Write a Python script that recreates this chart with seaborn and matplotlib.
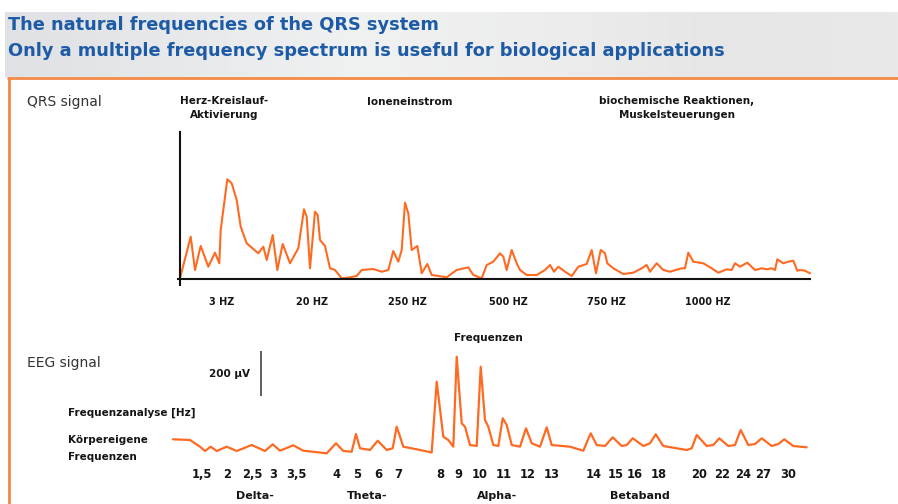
import numpy as np
import pandas as pd
import matplotlib
matplotlib.use("Agg")
import matplotlib.pyplot as plt
from matplotlib.lines import Line2D
from matplotlib.colors import LinearSegmentedColormap
import seaborn as sns

# ---------------- data ----------------
qrs_pos = [0, 10.7, 15, 20.7, 28.3, 35, 39.3, 40.7, 47.3, 51.7, 56.7, 60.7, 66.7, 78.3, 83.3, 86.7,
           92.7, 97.3, 102.7, 110, 118.3, 124, 126.7, 130, 135, 137.7, 140, 145, 150, 155, 161.7,
           170, 176.7, 181.7, 193.3, 201.7, 208.3, 213.3, 218.3, 221.7, 225, 228.3, 231.7, 237.3,
           241.7, 247.3, 251.7, 266.7, 276.7, 288.3, 293.3, 301.7, 306.7, 313.3, 320, 323.3, 326.7,
           331.7, 336.7, 340, 346.7, 356.7, 365, 370, 374, 378.3, 385, 391.7, 398.3, 406.7, 411.7,
           416, 420.7, 425, 427.3, 433.3, 443.3, 453.3, 461.7, 466.7, 470, 476.7, 483.3, 490, 493.3,
           501.7, 505, 508.3, 513.3, 523.3, 531.7, 538.3, 546.7, 551.7, 555, 560, 567.3, 575, 581.7,
           586.7, 591.7, 595, 597.3, 603.3, 608.3, 613.3, 617.3, 620, 625, 630]
qrs_amp = [0.7, 42.3, 9, 33, 12.3, 26.3, 15.7, 49, 99.7, 95.7, 79, 52.3, 35.7, 25.7, 32.3, 19,
           44, 9, 35, 15.7, 30.7, 69.7, 62.3, 10.7, 67.3, 64, 39, 33, 10.7, 9, 0.7,
           1.7, 3, 9, 10, 7.3, 9, 28, 17.3, 29, 76.3, 65.7, 29, 33,
           5.7, 15, 4, 1.7, 9, 11.7, 4, 0.7, 14, 17.3, 25.7, 22.3, 9,
           29, 15.7, 9, 4, 4, 9, 14, 7.3, 12.3, 7.3, 3, 12.3, 15, 29,
           5.7, 29, 25.7, 15.7, 10.7, 5, 6.3, 10.7, 14, 7.3, 15.7, 9, 7.3, 8.3,
           10.7, 10.7, 26.3, 17.3, 15.7, 10.7, 6.3, 9.7, 9, 15.7, 12.3, 16.3, 9, 10.7,
           9.7, 10.7, 9, 19.7, 15.7, 17.3, 18.3, 8.3, 9, 8.3, 5.7]
qrs_tick_pos = [42, 132, 227, 328, 426, 528]
qrs_tick_labels = ["3 HZ", "20 HZ", "250 HZ", "500 HZ", "750 HZ", "1000 HZ"]

eeg_pos = [0, 17, 27, 32, 37.7, 43.7, 53.7, 63.7, 78.7, 92, 99.7, 107, 120.3, 130.3, 153.7, 163,
           170.3, 178.7, 183, 187, 197, 204.7, 213.7, 219.7, 223.7, 230.3, 243.7, 258.7, 263.7,
           270.3, 275.3, 280.3, 283.7, 288.7, 292, 297, 303.7, 307.7, 312, 315.3, 320.3, 325.3,
           329.7, 333.7, 338.7, 347, 353, 358.7, 367, 373.7, 378.7, 397, 410.3, 417.7, 423.7,
           432, 439.7, 448.7, 453.7, 459.7, 470.3, 477, 482.7, 490.3, 513.7, 518.7, 523.7,
           533.7, 540.3, 546.3, 555.3, 562, 567.7, 575.3, 582, 588.7, 598.7, 605.3, 611.3,
           620.3, 633.7]
eeg_amp = [7.7, 7, 0.3, -4, 0.3, -4, 0.3, -4, 2, -4, 2.7, -3.7, 1.7, -3.7, -6.3, 3.7,
           -4, -4.7, 13, -1.3, -3, 6.3, -3, -1.3, 20.3, 0.3, -2.3, -5.5, 65.3,
           10.3, 7, 0.3, 90.3, 23.7, 20.3, 2, 1, 80.3, 27, 20.3, 2, 1,
           28.7, 22, 2, 0.3, 18.7, 3.7, 0.3, 19.7, 2, 0.3, -3.7, 13.7, 2,
           1, 9.7, 1, 2, 8.7, 1, 3.7, 12.7, 1, -3, -1.3, 12,
           1, 2, 8.7, 1, 2, 17, 2, 3, 8.7, 1, 3, 7.7,
           1, -0.3]
eeg_tick_pos = [28.7, 53.7, 79, 100.3, 123.7, 163.7, 184, 205, 225.3, 267, 285.3, 307, 330.3,
                354.7, 378.7, 421, 442.3, 462, 485.3, 526, 549, 569.7, 590.3, 615.3]
eeg_tick_labels = ["1,5", "2", "2,5", "3", "3,5", "4", "5", "6", "7", "8", "9", "10", "11",
                   "12", "13", "14", "15", "16", "18", "20", "22", "24", "27", "30"]
band_labels = ["Delta-", "Theta-", "Alpha-", "Betaband"]

title_lines = ["The natural frequencies of the QRS system",
               "Only a multiple frequency spectrum is useful for biological applications"]

# ---------------- style ----------------
sns.set_theme(style="white")
plt.rcParams["font.family"] = ["DejaVu Sans"]
ORANGE = "#ff6a22"
FRAME = "#f28a45"
BLUE = "#1d5ba6"
TXT = "#151515"

W, H = 898, 504
fig = plt.figure(figsize=(W / 100, H / 100), dpi=100)
fig.patch.set_facecolor("white")


def rect(x0, y0, x1, y1):
    return [x0 / W, 1 - y1 / H, (x1 - x0) / W, (y1 - y0) / H]


def ftext(x, y, s, **kw):
    fig.text(x / W, 1 - y / H, s, **kw)


# banner
axb = fig.add_axes(rect(5, 12, 898, 77))
cmap = LinearSegmentedColormap.from_list(
    "banner", ["#dfe1e4", "#e7e9eb", "#f0f1f1", "#ededed", "#e6e6e6", "#e9e9e9"])
axb.imshow(np.linspace(0, 1, 256)[None, :], aspect="auto", cmap=cmap, extent=[0, 1, 0, 1])
axb.axis("off")

ftext(8, 30, title_lines[0], fontsize=12.8, fontweight="bold", color=BLUE, va="baseline")
ftext(8, 56, title_lines[1], fontsize=12.8, fontweight="bold", color=BLUE, va="baseline")

# orange frame
fig.add_artist(Line2D([8 / W, 1], [1 - 78 / H] * 2, color=FRAME, lw=2))
fig.add_artist(Line2D([9 / W] * 2, [1 - 78 / H, 0], color=FRAME, lw=2))

# ---------------- QRS panel ----------------
ax1 = fig.add_axes(rect(170, 130, 815, 286))
ax1.patch.set_alpha(0)
sns.lineplot(data=pd.DataFrame({"pos": qrs_pos, "amp": qrs_amp}), x="pos", y="amp",
             ax=ax1, color=ORANGE, lw=1.5, estimator=None, sort=False)
ax1.set_xlim(-10, 635)
ax1.set_ylim(-7, 149)
for s in ["top", "right"]:
    ax1.spines[s].set_visible(False)
ax1.spines["left"].set_position(("data", 0))
ax1.spines["bottom"].set_position(("data", 0))
ax1.spines["left"].set_bounds(-6, 147)
ax1.spines["bottom"].set_bounds(-2, 630)
for s in ["left", "bottom"]:
    ax1.spines[s].set_color("#111111")
    ax1.spines[s].set_linewidth(1.5)
ax1.set_yticks([])
ax1.set_xticks(qrs_tick_pos, qrs_tick_labels)
ax1.tick_params(axis="x", length=0, pad=13, labelsize=7, labelcolor=TXT)
for t in ax1.get_xticklabels():
    t.set_fontweight("bold")
ax1.set_xlabel("")
ax1.set_ylabel("")

ftext(27, 102, "QRS signal", fontsize=10, color="#333333", va="center")
ftext(224, 96, "Herz-Kreislauf-\nAktivierung", fontsize=7.5, color=TXT, ha="center", va="top",
      linespacing=1.5, fontweight="bold")
ftext(410, 102, "Ioneneinstrom", fontsize=7.5, color=TXT, ha="center", va="center",
      fontweight="bold")
ftext(677, 96, "biochemische Reaktionen,\nMuskelsteuerungen", fontsize=7.5, color=TXT,
      ha="center", va="top", linespacing=1.5, fontweight="bold")

# ---------------- EEG panel ----------------
ax2 = fig.add_axes(rect(160, 340, 820, 462))
ax2.patch.set_alpha(0)
sns.lineplot(data=pd.DataFrame({"pos": eeg_pos, "amp": eeg_amp}), x="pos", y="amp",
             ax=ax2, color=ORANGE, lw=1.6, estimator=None, sort=False)
ax2.set_xlim(-13, 647)
ax2.set_ylim(-15, 107)
for s in ax2.spines.values():
    s.set_visible(False)
ax2.set_yticks([])
ax2.set_xticks(eeg_tick_pos, eeg_tick_labels)
ax2.tick_params(axis="x", length=0, pad=4, labelsize=8.3, labelcolor=TXT)
for t in ax2.get_xticklabels():
    t.set_fontweight("bold")
ax2.set_xlabel("")
ax2.set_ylabel("")
# 200 µV scale bar
ax2.vlines(88, 51, 96, color="#444444", lw=1.2)

ftext(27, 363, "EEG signal", fontsize=10, color="#333333", va="center")
ftext(250, 374, "200 µV", fontsize=7.5, color=TXT, ha="right", va="center", fontweight="bold")
ftext(488, 338, "Frequenzen", fontsize=7.5, color=TXT, ha="center", va="center",
      fontweight="bold")
ftext(68, 413, "Frequenzanalyse [Hz]", fontsize=7.5, color=TXT, va="center", fontweight="bold")
ftext(68, 440, "Körpereigene", fontsize=7.5, color=TXT, va="center", fontweight="bold")
ftext(68, 457, "Frequenzen", fontsize=7.5, color=TXT, va="center", fontweight="bold")
for lab, x in zip(band_labels, [255, 367, 497, 640]):
    ftext(x, 491, lab, fontsize=8, color=TXT, ha="center", va="top", fontweight="bold")

fig.savefig("out.png", dpi=100)
